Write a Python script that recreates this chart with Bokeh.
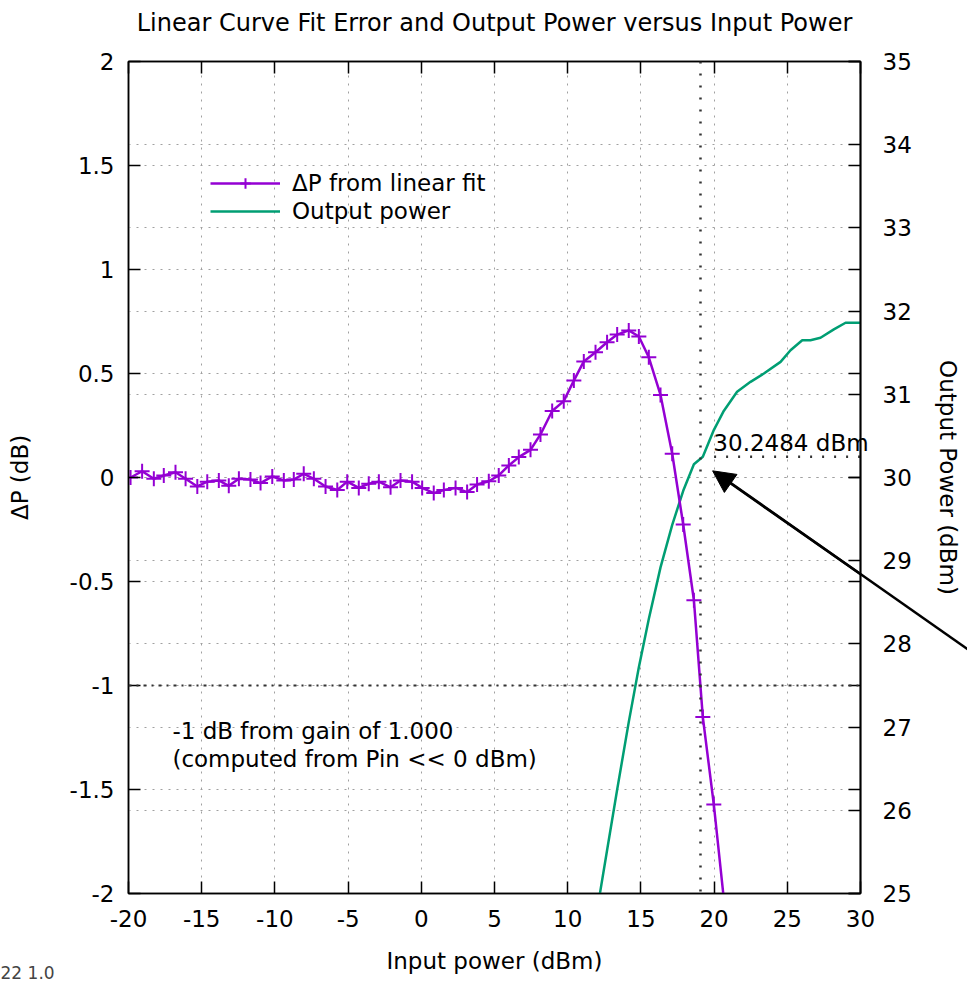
from bokeh.plotting import figure
from bokeh.models import (Range1d, LinearAxis, FixedTicker, PrintfTickFormatter, Grid,
                          Span, Label, Arrow, NormalHead, Legend, LegendItem)
from bokeh.core.properties import value
from bokeh.embed import file_html
from bokeh.resources import INLINE

# ---------------- data ----------------
pin_dbm = [-19.86, -19.07, -18.27, -17.59, -16.79, -16.10, -15.30, -14.62, -13.83, -13.15,
           -12.46, -11.67, -10.98, -10.18, -9.39, -8.71, -8.03, -7.34, -6.54, -5.74,
           -5.06, -4.27, -3.59, -2.90, -2.10, -1.42, -0.63, 0.06, 0.85, 1.54,
           2.34, 3.13, 3.81, 4.61, 5.29, 5.98, 6.66, 7.46, 8.14, 8.94,
           9.73, 10.42, 11.10, 11.90, 12.69, 13.38, 14.17, 14.86, 15.54, 16.34,
           17.14, 17.89, 18.62, 19.23, 19.98, 20.70]
delta_p_db = [0.000, 0.030, -0.006, 0.010, 0.025, -0.006, -0.043, -0.020, -0.014, -0.040,
              -0.006, -0.010, -0.027, 0.005, -0.014, -0.010, 0.018, -0.006, -0.043, -0.060,
              -0.020, -0.050, -0.030, -0.020, -0.047, -0.014, -0.020, -0.050, -0.075, -0.060,
              -0.050, -0.070, -0.034, -0.018, 0.010, 0.058, 0.098, 0.133, 0.207, 0.320,
              0.367, 0.466, 0.558, 0.602, 0.650, 0.687, 0.707, 0.678, 0.578, 0.397,
              0.114, -0.226, -0.590, -1.152, -1.572, -2.050]

pout_pin_dbm = [11.90, 12.69, 13.38, 14.17, 14.86, 15.54, 16.34, 17.14, 17.89, 18.62,
                19.23, 19.98, 20.66, 21.57, 22.49, 23.40, 24.54, 25.22, 26.02, 26.58,
                27.27, 28.18, 28.98, 29.76, 30.00]
pout_dbm = [24.68, 25.52, 26.25, 27.06, 27.72, 28.30, 28.92, 29.43, 29.84, 30.16,
            30.25, 30.57, 30.80, 31.03, 31.15, 31.25, 31.39, 31.53, 31.65, 31.65,
            31.68, 31.78, 31.86, 31.86, 31.86]

x_ticks = [-20, -15, -10, -5, 0, 5, 10, 15, 20, 25, 30]
y_ticks = [-2, -1.5, -1, -0.5, 0, 0.5, 1, 1.5, 2]
y2_ticks = [25, 26, 27, 28, 29, 30, 31, 32, 33, 34, 35]

ref_db = -1.0              # -1 dB reference line
comp_pin = 19.07           # input power at -1 dB
comp_pout = 30.2484        # output power at -1 dB
comp_line_x = [20, 30]     # extent of the dotted output-power marker line
arrow_tail = (37.86, 27.87)   # (input power, output power) of the pointer arrow
arrow_tip = (19.9, 30.08)

TITLE = "Linear Curve Fit Error and Output Power versus Input Power"
PURPLE = "#9400d3"
GREEN = "#009e73"
FONT = "DejaVu Sans"
FS = "23px"

# ---------------- figure ----------------
p = figure(width=967, height=982, x_range=Range1d(-20, 30), y_range=Range1d(-2, 2),
           output_backend="svg", toolbar_location=None, title_location=None,
           min_border_left=128, min_border_right=107, min_border_top=61, min_border_bottom=89,
           background_fill_color="white", border_fill_color="white",
           outline_line_color="black", outline_line_width=1.5)
p.extra_y_ranges = {"y2": Range1d(25, 35)}


def style_axis(ax, ticks, show_labels=True):
    ax.ticker = FixedTicker(ticks=ticks)
    ax.formatter = PrintfTickFormatter(format="%g")
    ax.major_tick_in = 12
    ax.major_tick_out = 0
    ax.minor_tick_line_color = None
    ax.major_tick_line_color = "black"
    ax.major_tick_line_width = 1.5
    ax.axis_line_color = "black"
    ax.axis_line_width = 1.5
    ax.major_label_text_font = FONT
    ax.major_label_text_font_size = FS
    ax.major_label_text_color = "black"
    ax.axis_label_text_font = FONT
    ax.axis_label_text_font_size = FS
    ax.axis_label_text_font_style = "normal"
    ax.axis_label_text_color = "black"
    if not show_labels:
        ax.major_label_overrides = {t: "" for t in ticks}
        ax.major_label_standoff = 0


xaxis = p.xaxis[0]
style_axis(xaxis, x_ticks)
xaxis.axis_label = "Input power (dBm)"
xaxis.major_label_standoff = 16
xaxis.axis_label_standoff = 18

yaxis = p.yaxis[0]
style_axis(yaxis, y_ticks)
yaxis.axis_label = "ΔP (dB)"
yaxis.major_label_standoff = 14
yaxis.axis_label_standoff = 34

# mirrored left ticks on the right border (no labels), closest to the frame
ymirror = LinearAxis()
style_axis(ymirror, y_ticks, show_labels=False)
p.add_layout(ymirror, "right")

y2axis = LinearAxis(y_range_name="y2")
style_axis(y2axis, y2_ticks)
y2axis.axis_label = "Output Power (dBm)"
y2axis.major_label_standoff = 22
y2axis.axis_label_standoff = 20
p.add_layout(y2axis, "right")

xmirror = LinearAxis()
style_axis(xmirror, x_ticks, show_labels=False)
p.add_layout(xmirror, "above")

# ---------------- grids ----------------
GRID_COLOR = "#a0a0a0"
GRID_DASH = "2 6"
p.xgrid.ticker = FixedTicker(ticks=x_ticks)
p.ygrid.ticker = FixedTicker(ticks=y_ticks)
for g in (p.xgrid[0], p.ygrid[0]):
    g.grid_line_color = GRID_COLOR
    g.grid_line_dash = GRID_DASH
    g.grid_line_width = 1
g2 = Grid(dimension=1, ticker=FixedTicker(ticks=y2_ticks), y_range_name="y2",
          grid_line_color=GRID_COLOR, grid_line_dash=GRID_DASH, grid_line_width=1)
p.add_layout(g2)

# ---------------- reference lines ----------------
p.add_layout(Span(location=ref_db, dimension="width", line_color="#333333",
                  line_width=2, line_dash="3 5 2 5"))
p.add_layout(Span(location=comp_pin, dimension="height", line_color="#333333",
                  line_width=2.5, line_dash="2 10"))
p.line(x=comp_line_x, y=[comp_pout, comp_pout], y_range_name="y2",
       line_color="#333333", line_width=2.5, line_dash="2 10")

# ---------------- data series ----------------
g_line = p.line(pout_pin_dbm, pout_dbm, y_range_name="y2", line_color=GREEN, line_width=2.5)
d_line = p.line(pin_dbm, delta_p_db, line_color=PURPLE, line_width=2.5)
d_pts = p.scatter(pin_dbm, delta_p_db, marker="cross", size=15, line_width=2,
                  line_color=PURPLE, fill_color=None)

legend = Legend(items=[LegendItem(label="ΔP from linear fit", renderers=[d_line, d_pts]),
                       LegendItem(label="Output power", renderers=[g_line])],
                location=(82, 669), orientation="vertical",
                background_fill_alpha=0, border_line_color=None,
                label_text_font=FONT, label_text_font_size=FS, label_text_color="black",
                glyph_width=70, glyph_height=26, label_height=26, spacing=2,
                padding=0, margin=0, label_standoff=12)
p.add_layout(legend)

# ---------------- annotations ----------------
p.add_layout(Label(x=-17.0, y=-1.221, text="-1 dB from gain of 1.000",
                   text_baseline="middle", text_font=FONT, text_font_size=FS,
                   text_color="black"))
p.add_layout(Label(x=-17.0, y=-1.351, text="(computed from Pin << 0 dBm)",
                   text_baseline="middle", text_font=FONT, text_font_size=FS,
                   text_color="black"))
# value label (may extend past the frame, so drawn at overlay level)
p.text(x=[19.95], y=[30.41], text=[f"{comp_pout} dBm"], y_range_name="y2",
       text_baseline="middle", text_align="left", text_font=value(FONT),
       text_font_size=value(FS), text_color="black", level="overlay")

# pointer arrow: shaft runs off the right edge, head inside the frame
p.segment(x0=[arrow_tail[0]], y0=[arrow_tail[1]], x1=[20.6], y1=[30.0], y_range_name="y2",
          line_color="black", line_width=2.5, level="overlay")
p.add_layout(Arrow(x_start=arrow_tail[0], y_start=arrow_tail[1],
                   x_end=arrow_tip[0], y_end=arrow_tip[1], y_range_name="y2",
                   line_color="black", line_width=2.5,
                   end=NormalHead(size=22, fill_color="black", line_color="black")))

# chart title, centred above the frame
p.text(x=[5], y=[2.1875], text=[TITLE], text_baseline="middle", text_align="center",
       text_font=value(FONT), text_font_size=value("24px"), text_color="black",
       level="overlay")

# small footer text at the bottom-left corner
p.text(x=[-28.74], y=[-2.335], text=["22  1.0"], text_baseline="top", text_align="left",
       text_font=value(FONT), text_font_size=value("17px"), text_color="#444444",
       level="overlay")

open("out.html", "w").write(file_html(p, INLINE))
